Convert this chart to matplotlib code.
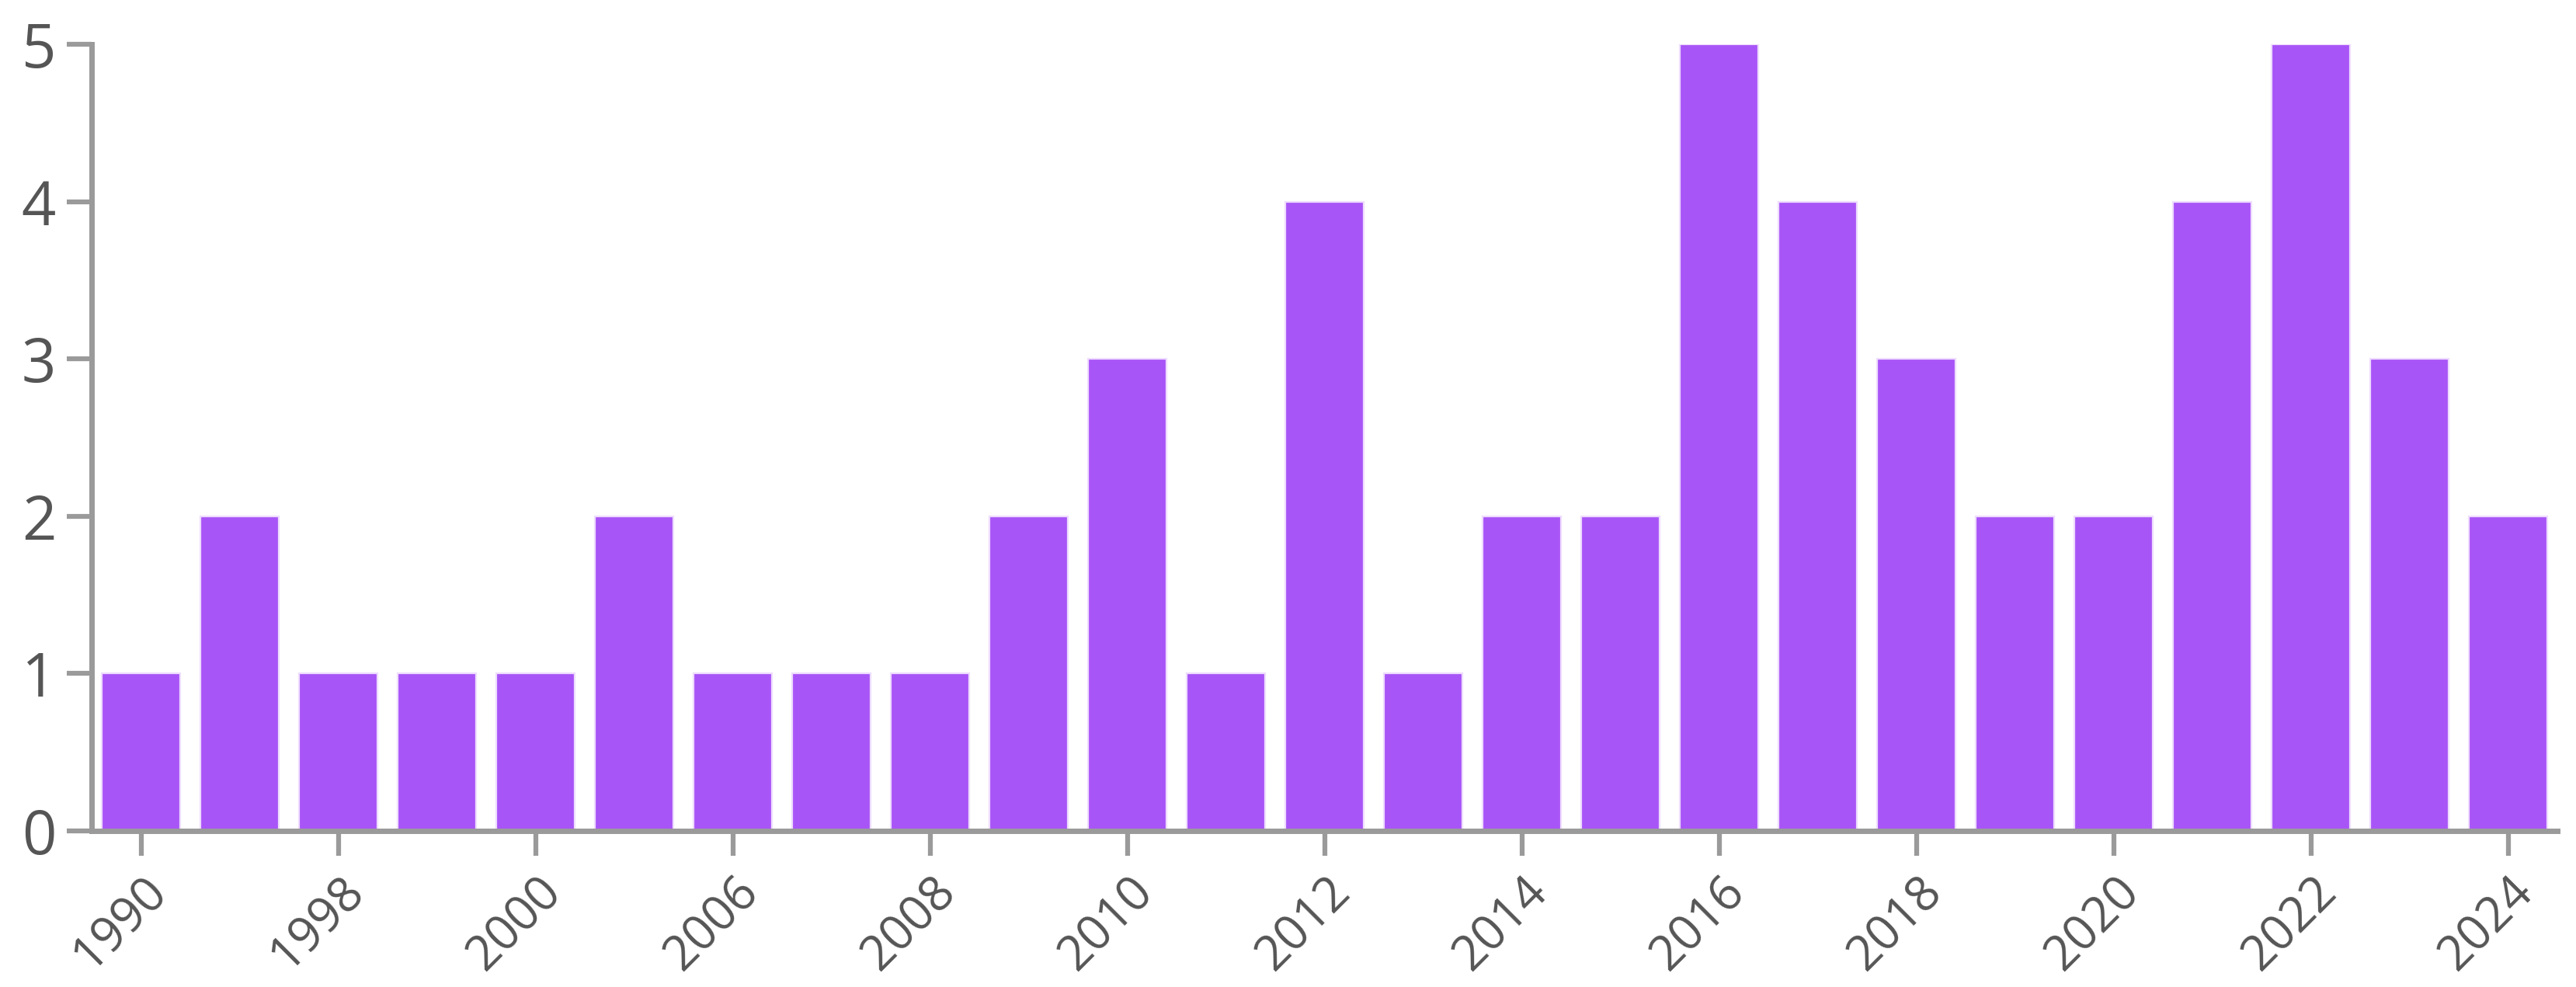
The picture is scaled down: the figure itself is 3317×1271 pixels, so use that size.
import matplotlib
matplotlib.use("Agg")
import matplotlib.pyplot as plt
import matplotlib.transforms as mtransforms

years = ["1990", "1997", "1998", "1999", "2000", "2005", "2006", "2007", "2008",
         "2009", "2010", "2011", "2012", "2013", "2014", "2015", "2016", "2017",
         "2018", "2019", "2020", "2021", "2022", "2023", "2024"]
counts = [1, 2, 1, 1, 1, 2, 1, 1, 1, 2, 3, 1, 4, 1, 2, 2, 5, 4, 3, 2, 2, 4, 5, 3, 2]
y_ticks = [0, 1, 2, 3, 4, 5]

plt.rcParams['font.family'] = ['Open Sans', 'DejaVu Sans']

W, H = 3317, 1271
fig = plt.figure(figsize=(W / 100, H / 100), dpi=100)
left, right, top, bottom = 118, 3293, 57, 1070
ax = fig.add_axes([left / W, 1 - bottom / H, (right - left) / W, (bottom - top) / H])

x = list(range(len(years)))
ax.bar(x, counts, width=0.79, color='#a855f7', edgecolor='#eedcfe', linewidth=1.6, zorder=2)

ax.set_xlim(-0.5, len(years) - 0.5)
ax.set_ylim(0, 5)

axis_col = '#9a9a9a'
text_col = '#555555'
for s in ['top', 'right']:
    ax.spines[s].set_visible(False)
for s in ['left', 'bottom']:
    ax.spines[s].set_color(axis_col)
    ax.spines[s].set_linewidth(5)
    ax.spines[s].set_zorder(3)

ax.set_yticks(y_ticks)
ax.set_yticklabels([str(v) for v in y_ticks])
ax.tick_params(axis='y', length=23, width=4.5, color=axis_col, pad=10,
               labelsize=56, labelcolor=text_col)

shown = x[::2]
ax.set_xticks(shown)
ax.set_xticklabels([])
ax.tick_params(axis='x', length=23, width=4.5, color=axis_col)

offset = mtransforms.ScaledTranslation(0.02, -0.47, fig.dpi_scale_trans)
trans = ax.get_xaxis_transform() + offset
for i in shown:
    ax.text(i, 0, years[i], transform=trans, rotation=45, ha='right', va='top',
            rotation_mode='anchor', fontsize=45, color=text_col, clip_on=False)

fig.savefig("out.png", dpi=100, facecolor='white')
